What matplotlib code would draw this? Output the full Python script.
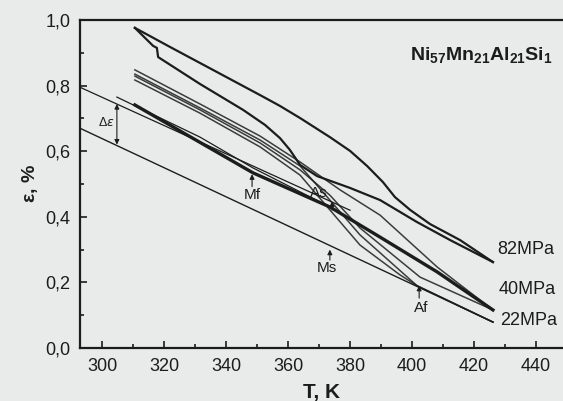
import numpy as np
import matplotlib
matplotlib.use("Agg")
import matplotlib.pyplot as plt
from matplotlib.ticker import MultipleLocator

plt.rcParams['font.family'] = ['Liberation Sans', 'DejaVu Sans']
plt.rcParams['mathtext.fontset'] = 'custom'
plt.rcParams['mathtext.bf'] = 'Liberation Sans:bold'
plt.rcParams['mathtext.rm'] = 'Liberation Sans'

# --- data (T in K, strain in %) ---
T_82_heat = [310.6, 321.9, 331.6, 341.3, 351.0, 357.4, 363.9, 373.5, 380.0,
             385.5, 390.6, 394.5, 399.4, 405.8, 415.5, 426.1]
e_82_heat = [0.976, 0.918, 0.869, 0.820, 0.771, 0.738, 0.701, 0.643, 0.601,
             0.555, 0.506, 0.460, 0.421, 0.378, 0.329, 0.262]

T_82_cool = [310.6, 316.5, 317.7, 318.1, 331.6, 345.5, 352.6, 357.4, 360.6,
             363.9, 369.4, 380.0, 389.7, 401.6, 412.3, 426.1]
e_82_cool = [0.976, 0.921, 0.915, 0.887, 0.805, 0.726, 0.680, 0.640, 0.604,
             0.558, 0.524, 0.488, 0.451, 0.384, 0.329, 0.262]

T_mart = [310.6, 348.7, 373.5, 389.7, 408.1, 426.1]
e_mart = [0.741, 0.534, 0.430, 0.338, 0.232, 0.116]

T_40a = [310.6, 331.6, 351.0, 363.9, 376.8, 389.7, 408.1, 426.1]
e_40a = [0.848, 0.744, 0.646, 0.567, 0.482, 0.405, 0.247, 0.116]
T_40b = [310.6, 331.6, 351.0, 363.9, 373.5, 383.2, 402.6, 426.1]
e_40b = [0.829, 0.726, 0.625, 0.543, 0.466, 0.366, 0.216, 0.116]

T_22a = [310.6, 331.6, 351.0, 363.9, 373.5, 383.2, 401.6, 426.1]
e_22a = [0.835, 0.732, 0.634, 0.555, 0.451, 0.345, 0.190, 0.079]
T_22b = [310.6, 331.6, 351.0, 363.9, 373.5, 383.2, 396.1, 401.6, 426.1]
e_22b = [0.817, 0.716, 0.613, 0.527, 0.421, 0.314, 0.223, 0.190, 0.079]

T_short = [304.8, 331.6, 348.7, 373.5]
e_short = [0.765, 0.643, 0.549, 0.430]

# straight extrapolation lines
T_L1 = [292.9, 380.0]
e_L1 = [0.795, 0.420]
T_L2 = [292.9, 426.1]
e_L2 = [0.670, 0.079]

xticks = [300, 320, 340, 360, 380, 400, 420, 440]
yticks = [0.0, 0.2, 0.4, 0.6, 0.8, 1.0]
ylabels = ['0,0', '0,2', '0,4', '0,6', '0,8', '1,0']

stress_labels = ['82MPa', '40MPa', '22MPa']
stress_T = [427.5, 428.0, 428.3]
stress_e = [0.299, 0.177, 0.085]

# point labels: name, label position, arrow tail, arrow head
points = [
    ('Mf', (348.4, 0.466), (348.4, 0.492), (348.4, 0.530)),
    ('As', (369.8, 0.473), (374.2, 0.420), (374.2, 0.447)),
    ('Ms', (372.6, 0.244), (373.5, 0.268), (373.5, 0.300)),
    ('Af', (403.0, 0.122), (402.3, 0.152), (402.3, 0.190)),
]

bg = '#e9ebea'
ink = '#1c1c1c'

fig = plt.figure(figsize=(5.63, 4.01), dpi=100, facecolor=bg)
ax = fig.add_axes([80/563, 53/401, 483/563, 328/401], facecolor=bg)

ax.plot(T_L1, e_L1, color=ink, lw=0.9)
ax.plot(T_L2, e_L2, color=ink, lw=1.0)
ax.plot(T_short, e_short, color=ink, lw=0.9)
for T, e in [(T_40a, e_40a), (T_40b, e_40b), (T_22a, e_22a), (T_22b, e_22b)]:
    ax.plot(T, e, color=ink, lw=1.1, alpha=0.85)
ax.plot(T_82_heat, e_82_heat, color=ink, lw=1.6)
ax.plot(T_82_cool, e_82_cool, color=ink, lw=1.6)
ax.plot(T_mart, e_mart, color=ink, lw=2.4)

# delta epsilon
ax.annotate('', xy=(304.8, 0.744), xytext=(304.8, 0.620),
            arrowprops=dict(arrowstyle='<|-|>', color=ink, lw=0.8,
                            mutation_scale=7, shrinkA=0, shrinkB=0))
ax.text(301.5, 0.686, r'$\Delta\varepsilon$', ha='center', va='center',
        fontsize=9, color=ink)

for name, lab, tail, head in points:
    ax.text(lab[0], lab[1], name, ha='center', va='center', fontsize=11,
            color=ink)
    ax.annotate('', xy=head, xytext=tail,
                arrowprops=dict(arrowstyle='-|>', color=ink, lw=0.8,
                                mutation_scale=7, shrinkA=0, shrinkB=0))

for s, T, e in zip(stress_labels, stress_T, stress_e):
    ax.text(T, e, s, ha='left', va='center', fontsize=13, color=ink)

ax.text(399.4, 0.893, r'$\mathbf{Ni_{57}Mn_{21}Al_{21}Si_{1}}$',
        ha='left', va='center', fontsize=14, color=ink)

ax.set_xlim(292.9, 448.7)
ax.set_ylim(0, 1.0)
ax.set_xticks(xticks)
ax.set_yticks(yticks)
ax.set_yticklabels(ylabels)
ax.xaxis.set_minor_locator(MultipleLocator(10))
ax.yaxis.set_minor_locator(MultipleLocator(0.1))
ax.tick_params(which='both', direction='in', top=False, right=False,
               labelsize=13, colors=ink, pad=7, width=1.2)
ax.tick_params(which='major', length=5)
ax.tick_params(which='minor', length=3)
for side in ['left', 'bottom', 'top']:
    ax.spines[side].set_linewidth(1.6)
    ax.spines[side].set_color(ink)
ax.spines['right'].set_visible(False)

ax.set_xlabel('T, K', fontsize=15, fontweight='bold', color=ink, labelpad=6)
ax.set_ylabel(r'$\mathbf{\varepsilon}$, %', fontsize=14, fontweight='bold',
              color=ink, labelpad=4)

fig.savefig('out.png', dpi=100, facecolor=bg)
